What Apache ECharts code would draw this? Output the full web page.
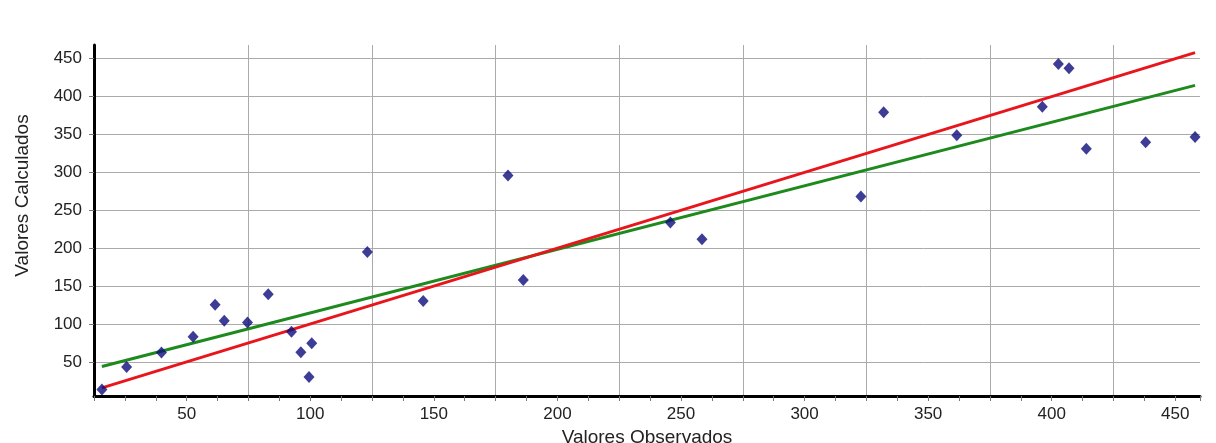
<!DOCTYPE html>
<html>
<head>
<meta charset="utf-8">
<script src="https://cdn.jsdelivr.net/npm/echarts@6/dist/echarts.min.js"></script>
<style>
html,body{margin:0;padding:0;background:#fff;}
#chart{width:1216px;height:443px;}
</style>
</head>
<body>
<div id="chart"></div>
<script>
// Observed values (x) and calculated values (y) of the points
const observados = [15.7, 25.7, 39.8, 52.6, 61.5, 65.2, 74.6, 83.0, 92.4, 96.2, 100.6, 99.5,
  123.1, 145.7, 180.0, 186.2, 245.7, 258.5, 322.8, 332.0, 361.6, 396.2, 402.7, 407.0,
  414.0, 438.0, 458.0];
const calculados = [13.5, 43.4, 62.4, 83.1, 125.4, 104.2, 102.1, 139.2, 89.7, 62.8, 74.7, 30.2,
  195.1, 130.3, 296.0, 158.1, 233.9, 211.9, 268.3, 379.4, 348.9, 386.5, 442.9, 437.2,
  331.3, 339.7, 346.8];
// Ideal line (y = x) and fitted line endpoints
const idealX = [15.7, 458];
const idealY = [15.7, 458];
const ajusteX = [15.7, 458];
const ajusteY = [44, 414.7];
// Tick labels
const xLabels = [50, 100, 150, 200, 250, 300, 350, 400, 450];
const xGrid = [75, 125, 175, 225, 275, 325, 375, 425];
const yLabels = [50, 100, 150, 200, 250, 300, 350, 400, 450];

const pairs = (xs, ys) => xs.map((x, i) => [x, ys[i]]);

const font = 'Liberation Sans, Arial, sans-serif';
const chart = echarts.init(document.getElementById('chart'), null, {renderer: 'canvas'});
chart.setOption({
  animation: false,
  backgroundColor: '#ffffff',
  grid: {left: 94, right: 16, top: 45, bottom: 47, containLabel: false, outerBoundsMode: 'none'},
  xAxis: [
    {
      type: 'value', min: 12.5, max: 460, interval: 12.5, position: 'bottom',
      axisLine: {show: true, onZero: false, lineStyle: {color: '#000', width: 3}},
      axisTick: {show: true, length: 5, lineStyle: {color: '#777', width: 1}},
      axisLabel: {customValues: xLabels, margin: 10, fontSize: 17, color: '#222', fontFamily: font},
      splitLine: {show: false},
      name: 'Valores Observados', nameLocation: 'middle', nameGap: 31,
      nameTextStyle: {fontSize: 19, color: '#222', fontFamily: font}
    },
    {
      type: 'value', min: 12.5, max: 460, position: 'bottom',
      axisLine: {show: false},
      axisTick: {show: false, customValues: xGrid},
      axisLabel: {show: false},
      splitLine: {show: true, lineStyle: {color: '#aaaaaa', width: 1}}
    }
  ],
  yAxis: {
    type: 'value', min: 5, max: 468,
    axisLine: {show: true, onZero: false, lineStyle: {color: '#000', width: 3}},
    axisTick: {show: true, length: 5, customValues: yLabels, lineStyle: {color: '#777', width: 1}},
    axisLabel: {customValues: yLabels, margin: 12, fontSize: 17, color: '#222', fontFamily: font},
    splitLine: {show: true, lineStyle: {color: '#aaaaaa', width: 1}},
    name: 'Valores Calculados', nameLocation: 'middle', nameGap: 62,
    nameTextStyle: {fontSize: 19, color: '#222', fontFamily: font, padding: [0, 0, 0, 50]}
  },
  series: [
    {
      type: 'line', data: pairs(ajusteX, ajusteY), showSymbol: false, symbol: 'none',
      lineStyle: {color: '#1e8a1e', width: 3}, z: 2, silent: true
    },
    {
      type: 'line', data: pairs(idealX, idealY), showSymbol: false, symbol: 'none',
      lineStyle: {color: '#e8161c', width: 3}, z: 3, silent: true
    },
    {
      type: 'scatter', data: pairs(observados, calculados), symbol: 'diamond',
      symbolSize: [11, 12], itemStyle: {color: '#0c0c7a'}, z: 4
    }
  ]
});
</script>
</body>
</html>
